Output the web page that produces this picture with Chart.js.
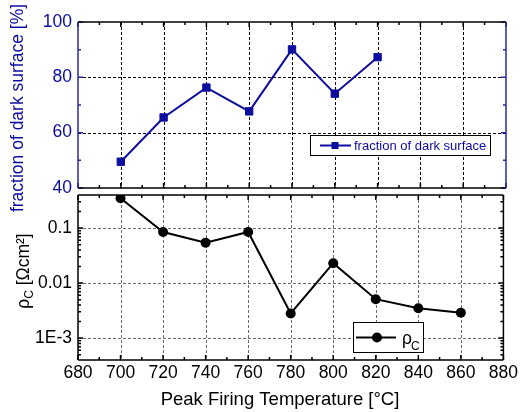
<!DOCTYPE html>
<html>
<head>
<meta charset="utf-8">
<script src="https://cdn.jsdelivr.net/npm/chart.js@4.4.1/dist/chart.umd.min.js"></script>
<style>
  html, body { margin: 0; padding: 0; background: #fff; }
  #wrap { position: relative; width: 521px; height: 412px; }
  #wrap canvas { position: absolute; left: 0; top: 0; }
</style>
</head>
<body>
<div id="wrap">
  <canvas id="rhoChart" width="521" height="412"></canvas>
  <canvas id="darkChart" width="521" height="412"></canvas>
</div>
<script>
// values
const temperatures = [700, 720, 740, 760, 780, 800, 820, 840, 860];
const rhoC = [0.35, 0.085, 0.054, 0.085, 0.0028, 0.023, 0.0051, 0.0035, 0.0029];
const darkTemperatures = [700, 720, 740, 760, 780, 800, 820];
const darkFraction = [49.5, 65.5, 76.3, 67.7, 90.1, 74.1, 87.3];
const tempTicks = [680, 700, 720, 740, 760, 780, 800, 820, 840, 860, 880];
const fractionTicks = [40, 60, 80, 100];
const rhoTicks = [0.001, 0.01, 0.1];
const rhoTickLabels = ['1E-3', '0.01', '0.1'];

const FONT = "'Liberation Sans', Arial, sans-serif";
const BLUE = '#0c0c9e';
const AXIS_BLUE = '#2a2aa8';
Chart.defaults.font.family = FONT;

const midpoints = arr => arr.slice(1).map((v, i) => (v + arr[i]) / 2);
const tempMinor = midpoints(tempTicks);
const fractionMinor = midpoints(fractionTicks);
const rhoMinor = [];
[0.0001, 0.001, 0.01, 0.1].forEach(d => {
  for (let k = 2; k <= 9; k++) {
    const v = d * k;
    if (v > 0.0004 && v < 0.4) rhoMinor.push(v);
  }
});

function rotatedText(ctx, x, y, color, parts) {
  ctx.save();
  ctx.translate(x, y);
  ctx.rotate(-Math.PI / 2);
  ctx.fillStyle = color;
  ctx.textAlign = 'left';
  ctx.textBaseline = 'alphabetic';
  let total = 0;
  parts.forEach(p => { ctx.font = p.size + 'px ' + FONT; p.w = ctx.measureText(p.text).width; total += p.w; });
  let cx = -total / 2;
  parts.forEach(p => { ctx.font = p.size + 'px ' + FONT; ctx.fillText(p.text, cx, p.dy || 0); cx += p.w; });
  ctx.restore();
}

// dashed grid, frame and inward ticks drawn on the library's scales
function decor(cfg) {
  return {
    id: 'decor',
    beforeDatasetsDraw(chart) {
      const { ctx, chartArea: a, scales: { x, y } } = chart;
      ctx.save();
      ctx.strokeStyle = cfg.gridColor;
      ctx.lineWidth = 1;
      ctx.setLineDash([3, 2]);
      ctx.beginPath();
      cfg.gridX.forEach(v => {
        const px = Math.round(x.getPixelForValue(v)) + 0.5;
        ctx.moveTo(px, a.top); ctx.lineTo(px, a.bottom);
      });
      cfg.gridY.forEach(v => {
        const py = Math.round(y.getPixelForValue(v)) + 0.5;
        ctx.moveTo(a.left, py); ctx.lineTo(a.right, py);
      });
      ctx.stroke();
      ctx.restore();
    },
    afterDatasetsDraw(chart) {
      const { ctx, chartArea: a, scales: { x, y } } = chart;
      ctx.save();
      ctx.lineWidth = 1.5;
      const tick = (color, fn) => { ctx.strokeStyle = color; ctx.beginPath(); fn(); ctx.stroke(); };
      const xt = (vals, len) => vals.forEach(v => {
        const px = x.getPixelForValue(v);
        ctx.moveTo(px, a.bottom); ctx.lineTo(px, a.bottom - len);
        ctx.moveTo(px, a.top); ctx.lineTo(px, a.top + len);
      });
      tick(cfg.colors.x, () => { xt(tempTicks, 5); xt(tempMinor, 3); });
      const yt = (vals, len, side) => vals.forEach(v => {
        const py = y.getPixelForValue(v);
        if (side === 'left') { ctx.moveTo(a.left, py); ctx.lineTo(a.left + len, py); }
        else { ctx.moveTo(a.right, py); ctx.lineTo(a.right - len, py); }
      });
      ['left', 'right'].forEach(side => tick(cfg.colors[side], () => {
        yt(cfg.yMajor, 5, side); yt(cfg.yMinor, 3, side);
      }));
      const edge = (color, x1, y1, x2, y2) => { ctx.strokeStyle = color; ctx.beginPath(); ctx.moveTo(x1, y1); ctx.lineTo(x2, y2); ctx.stroke(); };
      edge(cfg.colors.x, a.left, a.top, a.right, a.top);
      edge(cfg.colors.x, a.left, a.bottom, a.right, a.bottom);
      edge(cfg.colors.left, a.left, a.top, a.left, a.bottom);
      edge(cfg.colors.right, a.right, a.top, a.right, a.bottom);
      ctx.restore();
      cfg.extra(ctx, chart);
    }
  };
}

const baseScaleX = {
  type: 'linear', min: 680, max: 880,
  afterBuildTicks: s => { s.ticks = tempTicks.map(v => ({ value: v })); },
  grid: { display: false, drawTicks: false },
  border: { display: false }
};

// top panel: fraction of dark surface
new Chart(document.getElementById('darkChart'), {
  type: 'line',
  data: {
    datasets: [{
      label: 'fraction of dark surface',
      data: darkTemperatures.map((t, i) => ({ x: t, y: darkFraction[i] })),
      borderColor: BLUE,
      backgroundColor: BLUE,
      borderWidth: 2,
      pointStyle: 'rect',
      pointRadius: 5.2,
      pointBorderWidth: 1,
      pointBackgroundColor: BLUE,
      pointBorderColor: BLUE,
      tension: 0
    }]
  },
  options: {
    responsive: false,
    animation: false,
    devicePixelRatio: 1,
    layout: { padding: { top: 22, right: 15, bottom: 224, left: 0 } },
    plugins: { legend: { display: false }, tooltip: { enabled: false } },
    scales: {
      x: Object.assign({}, baseScaleX, {
        ticks: { display: false },
        afterFit: s => { s.height = 0; }
      }),
      y: {
        type: 'linear', min: 40, max: 100,
        afterBuildTicks: s => { s.ticks = fractionTicks.map(v => ({ value: v })); },
        ticks: { color: BLUE, font: { size: 17.5 }, padding: 6 },
        grid: { display: false, drawTicks: false },
        border: { display: false },
        afterFit: s => { s.width = 78; }
      }
    }
  },
  plugins: [decor({
    gridColor: '#000',
    gridX: tempTicks.slice(1, -1),
    gridY: fractionTicks.slice(1, -1),
    yMajor: fractionTicks,
    yMinor: fractionMinor,
    colors: { x: '#000', left: AXIS_BLUE, right: AXIS_BLUE },
    extra(ctx) {
      rotatedText(ctx, 23, 108, BLUE, [{ text: 'fraction of dark surface [%]', size: 17.5 }]);
      ctx.save();
      ctx.fillStyle = '#fff';
      ctx.fillRect(310, 135, 181, 20);
      ctx.strokeStyle = '#000';
      ctx.lineWidth = 1;
      ctx.strokeRect(310.5, 135.5, 180, 20);
      ctx.strokeStyle = BLUE;
      ctx.lineWidth = 2;
      ctx.beginPath(); ctx.moveTo(320, 145.5); ctx.lineTo(351, 145.5); ctx.stroke();
      ctx.fillStyle = BLUE;
      ctx.fillRect(331.5, 142, 7, 7);
      ctx.font = '13px ' + FONT;
      ctx.textBaseline = 'middle';
      ctx.fillText('fraction of dark surface', 354, 146);
      ctx.restore();
    }
  })]
});

// bottom panel: contact resistivity
new Chart(document.getElementById('rhoChart'), {
  type: 'line',
  data: {
    datasets: [{
      label: 'ρC',
      data: temperatures.map((t, i) => ({ x: t, y: rhoC[i] })),
      borderColor: '#000',
      backgroundColor: '#000',
      borderWidth: 2,
      pointStyle: 'circle',
      pointRadius: 5,
      pointBorderWidth: 0,
      pointBackgroundColor: '#000',
      tension: 0
    }]
  },
  options: {
    responsive: false,
    animation: false,
    devicePixelRatio: 1,
    layout: { padding: { top: 195, right: 15, bottom: 0, left: 0 } },
    plugins: { legend: { display: false }, tooltip: { enabled: false } },
    scales: {
      x: Object.assign({}, baseScaleX, {
        ticks: { color: '#000', font: { size: 17.5 }, padding: 3 },
        afterFit: s => { s.height = 52; }
      }),
      y: {
        type: 'logarithmic', min: 0.0004, max: 0.4,
        afterBuildTicks: s => { s.ticks = rhoTicks.map(v => ({ value: v })); },
        ticks: { color: '#000', font: { size: 17.5 }, padding: 6, callback: (v, i) => rhoTickLabels[i] },
        grid: { display: false, drawTicks: false },
        border: { display: false },
        afterFit: s => { s.width = 78; }
      }
    }
  },
  plugins: [decor({
    gridColor: '#6a6a6a',
    gridX: tempTicks.slice(1, -1),
    gridY: rhoTicks,
    yMajor: rhoTicks,
    yMinor: rhoMinor,
    colors: { x: '#000', left: '#000', right: '#000' },
    extra(ctx) {
      rotatedText(ctx, 28.5, 271, '#000', [
        { text: 'ρ', size: 17.5 },
        { text: 'C', size: 12, dy: 4 },
        { text: ' [Ωcm²]', size: 17.5 }
      ]);
      ctx.save();
      ctx.fillStyle = '#000';
      ctx.font = '18.5px ' + FONT;
      ctx.textAlign = 'center';
      ctx.textBaseline = 'middle';
      ctx.fillText('Peak Firing Temperature [°C]', 280, 400);
      ctx.fillStyle = '#fff';
      ctx.fillRect(353, 322, 71, 31);
      ctx.strokeStyle = '#000';
      ctx.lineWidth = 1;
      ctx.strokeRect(353.5, 322.5, 70, 30);
      ctx.lineWidth = 2;
      ctx.beginPath(); ctx.moveTo(356, 337.5); ctx.lineTo(396, 337.5); ctx.stroke();
      ctx.fillStyle = '#000';
      ctx.beginPath(); ctx.arc(377, 337.5, 5, 0, Math.PI * 2); ctx.fill();
      ctx.textAlign = 'left';
      ctx.textBaseline = 'alphabetic';
      ctx.font = '17.5px ' + FONT;
      ctx.fillText('ρ', 402, 344);
      ctx.font = '12px ' + FONT;
      ctx.fillText('C', 411, 350);
      ctx.restore();
    }
  })]
});
</script>
</body>
</html>
